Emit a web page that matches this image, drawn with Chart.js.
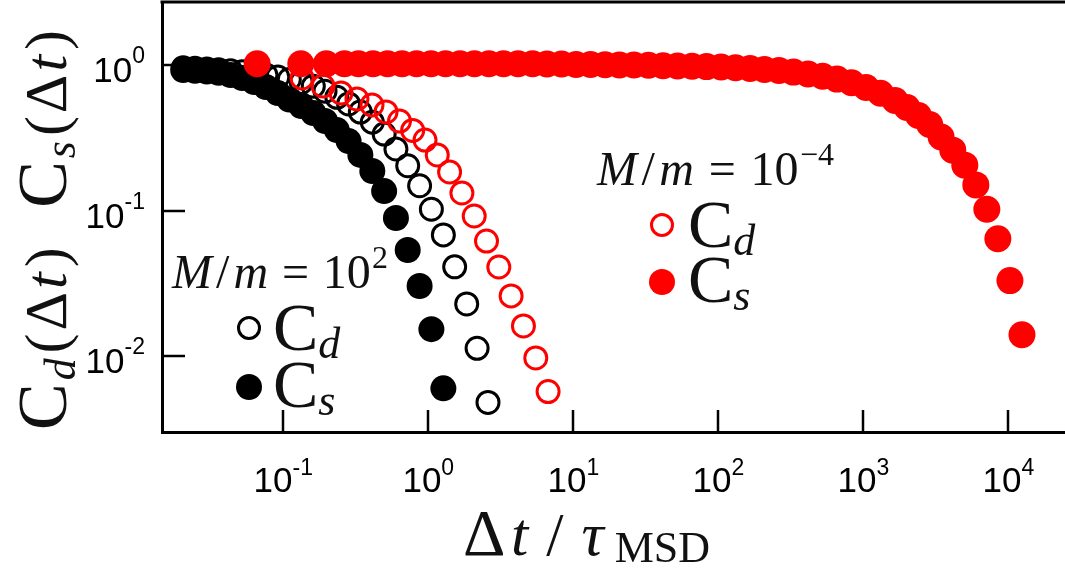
<!DOCTYPE html>
<html>
<head>
<meta charset="utf-8">
<script src="https://cdn.jsdelivr.net/npm/chart.js@4.4.0/dist/chart.umd.min.js"></script>
<style>
  html, body { margin: 0; padding: 0; background: #fff; }
</style>
</head>
<body>
<canvas id="corrChart" width="1065" height="573"></canvas>
<script>
// ------------------- data -------------------
// M/m = 10^2 (black)
const heavyTime = [0.0204, 0.0246, 0.0297, 0.0358, 0.0433, 0.0521, 0.0630, 0.0759, 0.0916, 0.110,
  0.133, 0.161, 0.194, 0.234, 0.282, 0.340, 0.411, 0.496, 0.598, 0.721, 0.871, 1.05, 1.27,
  1.52, 1.84, 2.17, 2.58];
const heavyCs = [0.924, 0.914, 0.902, 0.885, 0.854, 0.814, 0.764, 0.706, 0.642, 0.579,
  0.523, 0.468, 0.412, 0.357, 0.300, 0.241, 0.187, 0.136, 0.0888, 0.0535, 0.0303, 0.0153, 0.0060];
const heavyCd = [0.958, 0.950, 0.940, 0.928, 0.914, 0.897, 0.877, 0.854, 0.826, 0.795,
  0.758, 0.715, 0.66, 0.60, 0.54, 0.475, 0.405, 0.335, 0.265, 0.203, 0.148, 0.102, 0.068,
  0.041, 0.0228, 0.0113, 0.0048];

// M/m = 10^-4 (red)
const lightTimeS = [0.066, 0.132, 0.198, 0.264, 0.330, 0.416, 0.524, 0.659, 0.830, 1.045,
  1.315, 1.656, 2.08, 2.62, 3.30, 4.16, 5.24, 6.59, 8.30, 10.45, 13.15, 16.56, 20.8, 26.2,
  33.0, 41.6, 52.4, 65.9, 83.0, 104.5, 131.5, 165.6, 208, 262, 330, 416, 524, 659, 830,
  1045, 1315, 1656, 2000, 2400, 2870, 3440, 4140, 5010, 5970, 7110, 8470, 10260, 12420];
const lightCs = [1.02, 1.02, 1.02, 1.02, 1.02, 1.02, 1.02, 1.02, 1.02, 1.02,
  1.02, 1.02, 1.02, 1.02, 1.02, 1.02, 1.02, 1.015, 1.015, 1.01, 1.01, 1.005, 1.0, 1.0,
  0.995, 0.99, 0.985, 0.98, 0.975, 0.968, 0.958, 0.947, 0.933, 0.916, 0.894, 0.868, 0.837, 0.80, 0.755,
  0.70, 0.64, 0.57, 0.51, 0.45, 0.39, 0.32, 0.26, 0.205, 0.15, 0.102, 0.064, 0.033, 0.014];
const lightTimeD = [0.1346, 0.188, 0.250, 0.322, 0.409, 0.511, 0.633, 0.780,
  0.949, 1.153, 1.402, 1.705, 2.073, 2.52, 3.064, 3.725, 4.53, 5.51, 6.70];
const lightCd = [0.814, 0.717, 0.642, 0.584, 0.531, 0.476, 0.412, 0.355,
  0.305, 0.241, 0.184, 0.132, 0.0917, 0.0617, 0.0409, 0.0259, 0.0161, 0.0097, 0.0057];

// tick labels (decade exponents)
const xTickExp = ["-1", "0", "1", "2", "3", "4"];
const yTickExp = ["0", "-1", "-2"];

const RED = "#ff0000";
const INK = "#111";
const SERIF = '"Liberation Serif", "DejaVu Serif", serif';
const SANS = '"Liberation Sans", Arial, sans-serif';

function pairs(xs, ys) {
  return ys.map((y, i) => ({ x: xs[i], y: y }));
}

// ------------------- rich text helpers -------------------
function runWidth(ctx, r) {
  ctx.font = r.f;
  return ctx.measureText(r.t).width;
}

// draws runs from x (left); extra room (or overlap) is spread by weights so the run fits target width
function drawRuns(ctx, runs, x, y, target) {
  let natural = 0, wsum = 0;
  runs.forEach((r, i) => {
    natural += runWidth(ctx, r);
    if (i < runs.length - 1) wsum += (r.w || 0);
  });
  let extra = target ? (target - natural) : 0;
  let cx = x;
  runs.forEach((r, i) => {
    ctx.font = r.f;
    ctx.fillText(r.t, cx, y + (r.dy || 0));
    cx += ctx.measureText(r.t).width;
    if (i < runs.length - 1 && wsum > 0) cx += extra * (r.w || 0) / wsum;
  });
}

function sup(base, exp, baseFont, expFont, rise) {
  return [{ t: base, f: baseFont }, { t: exp, f: expFont, dy: -rise }];
}

// ------------------- frame, ticks, titles, labels -------------------
const framePlugin = {
  id: "frame",
  afterDraw(chart) {
    const ctx = chart.ctx;
    const area = chart.chartArea;
    const xs = chart.scales.x, ys = chart.scales.y;
    ctx.save();
    ctx.strokeStyle = "#000";
    ctx.fillStyle = INK;
    ctx.textBaseline = "alphabetic";
    ctx.textAlign = "left";

    // top frame line
    ctx.lineWidth = 3;
    ctx.beginPath();
    ctx.moveTo(area.left - 1.5, area.top);
    ctx.lineTo(area.right + 2, area.top);
    ctx.stroke();

    // inward ticks
    ctx.lineWidth = 2.5;
    xTickExp.forEach(e => {
      const px = Math.round(xs.getPixelForValue(Math.pow(10, +e)));
      ctx.beginPath();
      ctx.moveTo(px, area.bottom);
      ctx.lineTo(px, area.bottom - 22);
      ctx.stroke();
    });
    yTickExp.forEach(e => {
      const py = Math.round(ys.getPixelForValue(Math.pow(10, +e)));
      ctx.beginPath();
      ctx.moveTo(area.left, py);
      ctx.lineTo(area.left + 23, py);
      ctx.stroke();
    });

    // tick labels
    ctx.fillStyle = "#000";
    const tf = "35px " + SANS, ef = "23px " + SANS;
    xTickExp.forEach(e => {
      const px = xs.getPixelForValue(Math.pow(10, +e));
      const runs = sup("10", e, tf, ef, 17);
      let w = 0; runs.forEach(r => w += runWidth(ctx, r));
      drawRuns(ctx, runs, px - w / 2, 492);
    });
    yTickExp.forEach(e => {
      const py = ys.getPixelForValue(Math.pow(10, +e));
      const runs = sup("10", e, tf, ef, 19);
      let w = 0; runs.forEach(r => w += runWidth(ctx, r));
      drawRuns(ctx, runs, 145 - w, py + 17);
    });

    // x title:  Δt/τ_MSD
    ctx.fillStyle = INK;
    drawRuns(ctx, [
      { t: "Δ", f: "66px " + SERIF, w: 0.3 },
      { t: "t", f: "italic 62px " + SERIF, w: 1 },
      { t: "/", f: "62px " + SERIF, w: 1 },
      { t: "τ", f: "italic 62px " + SERIF, w: 0.6 },
      { t: "MSD", f: "44px " + SERIF, dy: 7 }
    ], 463, 555, 247);

    // y title:  C_d(Δt)  C_s(Δt), read bottom to top
    ctx.save();
    ctx.translate(66, 230);
    ctx.rotate(-Math.PI / 2);
    const cf = "70px " + SERIF, mf = "60px " + SERIF, itf = "italic 60px " + SERIF, sf = "italic 44px " + SERIF;
    const yRuns = [
      { t: "C", f: cf, w: 0.3 }, { t: "d", f: sf, dy: 9, w: 0.5 }, { t: "(", f: mf, w: 0.3 },
      { t: "Δ", f: mf, w: 0.3 }, { t: "t", f: itf, w: 0.5 }, { t: ")", f: mf, w: 4 },
      { t: "C", f: cf, w: 0.3 }, { t: "s", f: sf, dy: 9, w: 0.5 }, { t: "(", f: mf, w: 0.3 },
      { t: "Δ", f: mf, w: 0.3 }, { t: "t", f: itf, w: 0.5 }, { t: ")", f: mf }
    ];
    drawRuns(ctx, yRuns, -200, 0, 400);
    ctx.restore();

    // in-plot legends
    const lf = "italic 48px " + SERIF, rf = "48px " + SERIF, xf = "32px " + SERIF;
    const bigC = "68px " + SERIF, subf = "italic 44px " + SERIF;
    function group(color, x0, yHead, headW, expText, mx, myD, myS, cx) {
      ctx.fillStyle = INK;
      drawRuns(ctx, [
        { t: "M", f: lf, w: 0.3 }, { t: "/", f: rf, w: 0.3 }, { t: "m", f: lf, w: 1 },
        { t: "=", f: rf, w: 1 }, { t: "10", f: rf, w: 0.1 }, { t: expText, f: xf, dy: -20 }
      ], x0, yHead, headW);
      // open marker
      ctx.strokeStyle = color;
      ctx.lineWidth = 3;
      ctx.beginPath();
      ctx.arc(mx, myD, 10.5, 0, Math.PI * 2);
      ctx.stroke();
      // filled marker
      ctx.fillStyle = color;
      ctx.beginPath();
      ctx.arc(mx, myS, 13, 0, Math.PI * 2);
      ctx.fill();
      ctx.fillStyle = INK;
      drawRuns(ctx, [{ t: "C", f: bigC }, { t: "d", f: subf, dy: 8 }], cx, myD + 22);
      drawRuns(ctx, [{ t: "C", f: bigC }, { t: "s", f: subf, dy: 8 }], cx, myS + 20);
    }
    group("#000", 172, 288, 216, "2", 249, 328, 387, 273);
    group(RED, 597, 185, 237, "\u22124", 662, 225, 282, 688);

    ctx.restore();
  }
};

// ------------------- chart -------------------
new Chart(document.getElementById("corrChart").getContext("2d"), {
  type: "scatter",
  data: {
    datasets: [
      { label: "Cs, M/m=1e-4", data: pairs(lightTimeS, lightCs), order: 1,
        pointRadius: 13.5, pointBackgroundColor: RED, pointBorderWidth: 0 },
      { label: "Cd, M/m=1e-4", data: pairs(lightTimeD, lightCd), order: 2,
        pointRadius: 11, pointBackgroundColor: "rgba(0,0,0,0)", pointBorderColor: RED, pointBorderWidth: 3 },
      { label: "Cs, M/m=1e2", data: pairs(heavyTime, heavyCs), order: 3,
        pointRadius: 13, pointBackgroundColor: "#000", pointBorderWidth: 0 },
      { label: "Cd, M/m=1e2", data: pairs(heavyTime, heavyCd), order: 4,
        pointRadius: 11, pointBackgroundColor: "rgba(0,0,0,0)", pointBorderColor: "#000", pointBorderWidth: 3 }
    ]
  },
  options: {
    responsive: false,
    animation: false,
    devicePixelRatio: 1,
    layout: { autoPadding: false, padding: { top: 2, right: 1, left: 0, bottom: 0 } },
    plugins: { legend: { display: false }, tooltip: { enabled: false } },
    scales: {
      x: {
        type: "logarithmic", min: 0.01457, max: 24210,
        ticks: { display: false }, grid: { display: false },
        border: { display: true, color: "#000", width: 3 },
        afterFit: s => { s.height = 141; }
      },
      y: {
        type: "logarithmic", min: 0.003006, max: 2.71,
        ticks: { display: false }, grid: { display: false },
        border: { display: true, color: "#000", width: 3 },
        afterFit: s => { s.width = 162; }
      }
    }
  },
  plugins: [framePlugin]
});
</script>
</body>
</html>
